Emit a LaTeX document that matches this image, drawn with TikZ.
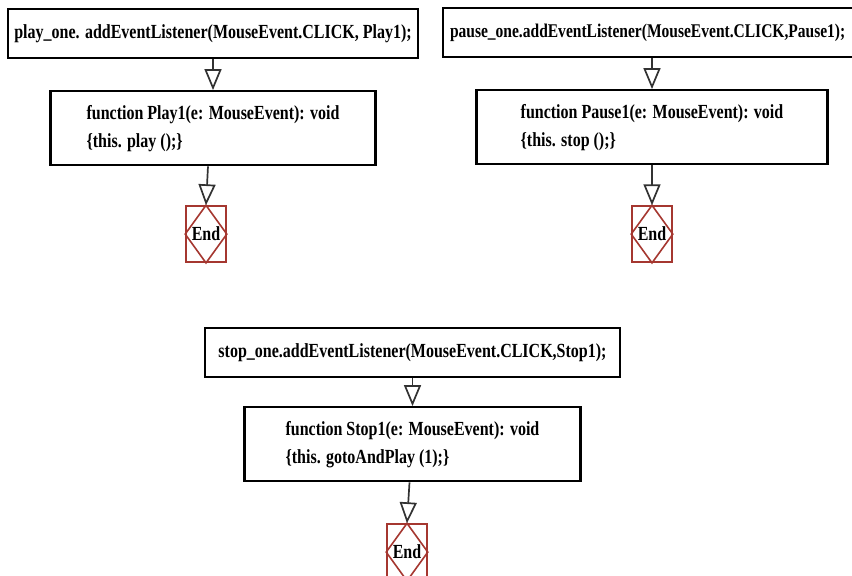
\documentclass[tikz,border=0pt]{standalone}
\usepackage{fontspec}
\setmainfont{Liberation Serif}[FakeStretch=0.80]
\usetikzlibrary{arrows.meta, positioning}
\definecolor{endred}{RGB}{165,55,48}
\definecolor{flowgray}{RGB}{50,50,50}

\begin{document}
\begin{tikzpicture}[x=1pt, y=1pt,
        callbox/.style={draw, line width=2.2pt, minimum height=49pt, inner sep=0pt, font=\bfseries\fontsize{20}{22}\selectfont},
        fnbox/.style={draw, line width=2.2pt, minimum height=74pt, inner sep=0pt, align=left, font=\bfseries\fontsize{20}{28}\selectfont},
        endbox/.style={draw=endred, line width=1.6pt, minimum width=40pt, minimum height=56pt, inner sep=0pt, font=\bfseries\fontsize{20}{22}\selectfont},
        endmark/.style={draw=endred, line width=1.6pt},
        flow/.style={draw=flowgray, line width=1.7pt, -{Triangle[open, length=21pt, width=17pt]}}]
    \useasboundingbox (0,0) rectangle (852,-576);

    % play button
    \node[callbox, minimum width=410pt] (playcall) at (213,-33.5)
        {play\_one. addEventListener(MouseEvent.CLICK, Play1);};
    \node[fnbox, minimum width=325pt, below=31pt of playcall]
        (playfn) {function Play1(e: MouseEvent): void\\\{this. play ();\}};
    \node[endbox, below=39pt of playfn, xshift=-7pt] (playend) {End};
    \draw[endmark] (playend.north) -- (playend.east) -- (playend.south) -- (playend.west) -- cycle;
    \draw[flow] (playcall) -- (playfn);
    \draw[flow] ([xshift=-5pt]playfn.south) -- (playend.north);

    % pause button (box runs past the right edge)
    \node[callbox, minimum width=418pt, text width=404pt, font=\bfseries\fontsize{19.4}{22}\selectfont] (pausecall) at (652,-32.5)
        {pause\_one.addEventListener(MouseEvent.CLICK,Pause1);};
    \node[fnbox, minimum width=351pt, below=31pt of pausecall]
        (pausefn) {function Pause1(e: MouseEvent): void\\\{this. stop ();\}};
    \node[endbox, below=40pt of pausefn] (pauseend) {End};
    \draw[endmark] (pauseend.north) -- (pauseend.east) -- (pauseend.south) -- (pauseend.west) -- cycle;
    \draw[flow] (pausecall) -- (pausefn);
    \draw[flow] (pausefn) -- (pauseend);

    % stop button
    \node[callbox, minimum width=415pt] (stopcall) at (412.5,-352.5)
        {stop\_one.addEventListener(MouseEvent.CLICK,Stop1);};
    \node[fnbox, minimum width=336pt, below=28pt of stopcall]
        (stopfn) {function Stop1(e: MouseEvent): void\\\{this. gotoAndPlay (1);\}};
    \node[endbox, below=41pt of stopfn, xshift=-5.5pt] (stopend) {End};
    \draw[endmark] (stopend.north) -- (stopend.east) -- (stopend.south) -- (stopend.west) -- cycle;
    \draw[flow] (stopcall) -- (stopfn);
    \draw[flow] ([xshift=-3pt]stopfn.south) -- (stopend.north);
\end{tikzpicture}
\end{document}
